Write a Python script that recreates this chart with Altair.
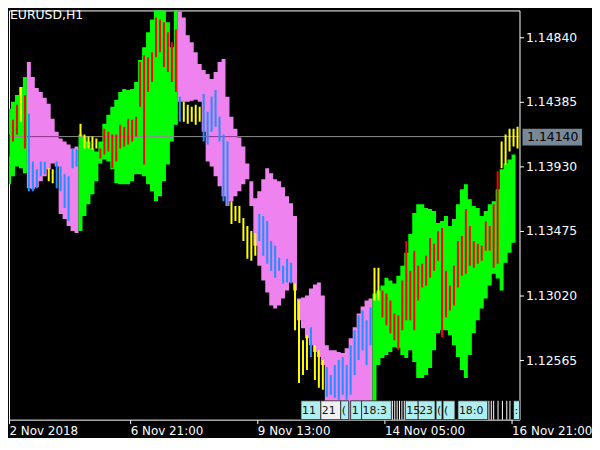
import altair as alt
import pandas as pd

# ---------------- data ----------------
band_top = [
    1.14301, 1.14336, 1.14385, 1.14434, 1.14490, 1.14560, 1.14665, 1.14560, 1.14483, 1.14455,
    1.14413, 1.14371, 1.14266, 1.14175, 1.14126, 1.14105, 1.14084, 1.14056, 1.14070, 1.14154,
    1.14140, 1.14105, 1.14056, 1.14035, 1.14105, 1.14231, 1.14294, 1.14350, 1.14399, 1.14455,
    1.14476, 1.14469, 1.14476, 1.14525, 1.14679, 1.14770, 1.14875, 1.14966, 1.15036, 1.15057,
    1.15050, 1.14945, 1.14770, 1.15071, 1.15022, 1.14980, 1.14854, 1.14805, 1.14735, 1.14651,
    1.14609, 1.14581, 1.14546, 1.14595, 1.14665, 1.14686, 1.14420, 1.14280, 1.14196, 1.14133,
    1.14070, 1.13951, 1.13825, 1.13706, 1.13755, 1.13839, 1.13916, 1.13881, 1.13839, 1.13825,
    1.13783, 1.13720, 1.13671, 1.13580, 1.12999, 1.13006, 1.13020, 1.13069, 1.13097, 1.13111,
    1.13020, 1.12670, 1.12635, 1.12635, 1.12621, 1.12614, 1.12649, 1.12719, 1.12796, 1.12894,
    1.12943, 1.12985, 1.12999, 1.13034, 1.13055, 1.13090, 1.13146, 1.13125, 1.13104, 1.13160,
    1.13230, 1.13321, 1.13454, 1.13601, 1.13664, 1.13664, 1.13636, 1.13629, 1.13615, 1.13531,
    1.13545, 1.13580, 1.13510, 1.13559, 1.13664, 1.13769, 1.13804, 1.13699, 1.13650, 1.13636,
    1.13580, 1.13615, 1.13664, 1.13685, 1.13769, 1.13909, 1.13951, 1.13979, 1.14014,
]
band_bot = [
    1.13804, 1.13804, 1.13860, 1.13930, 1.13916, 1.13881, 1.13776, 1.13769, 1.13783, 1.13825,
    1.13860, 1.13909, 1.13951, 1.13930, 1.13594, 1.13559, 1.13510, 1.13475, 1.13461, 1.13475,
    1.13580, 1.13664, 1.13734, 1.13825, 1.13951, 1.13979, 1.13965, 1.13909, 1.13811, 1.13804,
    1.13804, 1.13804, 1.13825, 1.13874, 1.13874, 1.13860, 1.13804, 1.13755, 1.13685, 1.13720,
    1.13825, 1.13944, 1.14105, 1.14224, 1.14385, 1.14385, 1.14385, 1.14392, 1.14399, 1.14385,
    1.14175, 1.13965, 1.13930, 1.13860, 1.13790, 1.13720, 1.13650, 1.13685, 1.13720, 1.13755,
    1.13804, 1.13839, 1.13650, 1.13370, 1.13230, 1.13125, 1.13041, 1.12950, 1.12929, 1.12950,
    1.12999, 1.13055, 1.13111, 1.13055, 1.12845, 1.12789, 1.12719, 1.12670, 1.12621, 1.12586,
    1.12530, 1.12145, 1.12145, 1.12145, 1.12145, 1.12145, 1.12145, 1.12145, 1.12145, 1.12145,
    1.12145, 1.12145, 1.12145, 1.12145, 1.12530, 1.12579, 1.12600, 1.12621, 1.12656, 1.12649,
    1.12600, 1.12579, 1.12635, 1.12551, 1.12439, 1.12439, 1.12460, 1.12509, 1.12635, 1.12754,
    1.12775, 1.12775, 1.12740, 1.12670, 1.12586, 1.12495, 1.12439, 1.12600, 1.12754, 1.12845,
    1.12929, 1.12999, 1.13090, 1.13174, 1.13139, 1.13055, 1.13251, 1.13321, 1.13391,
]
band_kind = "G" * 6 + "P" * 13 + "G" * 25 + "P" * 49 + "G" * 36

bar_hi = [
    1.14035, 1.14154, 1.14259, 1.14364, 1.14490, 1.14434, 1.14301, 1.13965, 1.13909, 1.13965,
    1.13965, 1.13916, 1.13909, 1.13965, 1.13930, 1.13874, 1.13860, 1.14056, 1.14049, 1.14231,
    1.14154, 1.14140, 1.14140, 1.14126, 1.14056, 1.14196, 1.14175, 1.14154, 1.14154, 1.14224,
    1.14210, 1.14266, 1.14259, 1.14280, 1.14665, 1.14714, 1.14700, 1.14735, 1.14980, 1.14966,
    1.14945, 1.14875, 1.14805, 1.14896, 1.14420, 1.14385, 1.14364, 1.14350, 1.14364, 1.14350,
    1.14441, 1.14315, 1.14420, 1.14469, 1.14280, 1.14154, 1.14105, 1.13685, 1.13650, 1.13650,
    1.13566, 1.13510, 1.13475, 1.13461, 1.13594, 1.13580, 1.13545, 1.13405, 1.13370, 1.13286,
    1.13230, 1.13279, 1.13251, 1.13104, 1.12985, 1.12705, 1.12740, 1.12796, 1.12670, 1.12635,
    1.12565, 1.12516, 1.12460, 1.12530, 1.12565, 1.12586, 1.12530, 1.12670, 1.12775, 1.12880,
    1.12915, 1.12845, 1.12936, 1.13216, 1.13216, 1.13055, 1.13034, 1.12985, 1.12894, 1.12880,
    1.13125, 1.13405, 1.13195, 1.13335, 1.13230, 1.13244, 1.13300, 1.13426, 1.13384, 1.13475,
    1.13496, 1.13195, 1.13090, 1.13230, 1.13405, 1.13440, 1.13629, 1.13510, 1.13405, 1.13384,
    1.13370, 1.13545, 1.13510, 1.13664, 1.13895, 1.14105, 1.14154, 1.14196, 1.14196, 1.14210,
]
bar_lo = [
    1.13909, 1.14000, 1.14105, 1.14154, 1.14245, 1.14056, 1.13755, 1.13755, 1.13776, 1.13860,
    1.13874, 1.13825, 1.13811, 1.13776, 1.13755, 1.13636, 1.13545, 1.13916, 1.13930, 1.14140,
    1.14056, 1.14056, 1.14049, 1.14056, 1.13986, 1.14014, 1.14035, 1.13916, 1.13965, 1.14056,
    1.14070, 1.14084, 1.14105, 1.14140, 1.14350, 1.13944, 1.14455, 1.14525, 1.14700, 1.14735,
    1.14630, 1.14595, 1.14525, 1.14455, 1.14245, 1.14245, 1.14231, 1.14245, 1.14224, 1.14245,
    1.14105, 1.14084, 1.14175, 1.14210, 1.14105, 1.13685, 1.13650, 1.13524, 1.13545, 1.13531,
    1.13405, 1.13279, 1.13265, 1.13300, 1.13405, 1.13300, 1.13244, 1.13195, 1.13146, 1.13195,
    1.13104, 1.13111, 1.13104, 1.12775, 1.12404, 1.12460, 1.12495, 1.12586, 1.12425, 1.12369,
    1.12355, 1.12306, 1.12320, 1.12299, 1.12285, 1.12320, 1.12285, 1.12320, 1.12460, 1.12565,
    1.12635, 1.12530, 1.12670, 1.12985, 1.12985, 1.12866, 1.12810, 1.12754, 1.12705, 1.12635,
    1.12775, 1.12845, 1.12845, 1.12775, 1.12985, 1.13076, 1.13090, 1.13146, 1.13195, 1.13265,
    1.12726, 1.12866, 1.12915, 1.12950, 1.13076, 1.13160, 1.13174, 1.13230, 1.13216, 1.13244,
    1.13265, 1.13335, 1.13335, 1.13216, 1.13244, 1.13916, 1.13944, 1.14035, 1.14070, 1.14056,
]
bar_kind = ("RRRR" "Y" "R" "BBBBB" "YY" "BBBBBB" "YYYYY" + "R" * 20 + "B" "YYYYY" "BBBBBBB"
            "YYYYYYY" "BBBBBBBBB" "YYYY" "B" "YYY" + "B" * 12 + "YY" + "R" * 30 + "YYYYY")

x_ticks = [1.5, 32, 64, 96, 128]
x_labels = ["2 Nov 2018", "6 Nov 21:00", "9 Nov 13:00", "14 Nov 05:00", "16 Nov 21:00"]
y_ticks = [1.14840, 1.14385, 1.13930, 1.13475, 1.13020, 1.12565]
last_price = 1.14140
symbol = "EURUSD,H1"

# vertical-line label objects along the bottom (text, from-bar, to-bar, fill)
obj_text = ["11", "21", "(", "1", "18:3", "15", "23", "(", "(", "18:0", ":"]
obj_from = [75.0, 80.0, 85.0, 87.5, 90.25, 101.25, 104.5, 109.0, 110.75, 114.5, 128.5]
obj_to = [80.0, 85.0, 87.0, 90.25, 97.75, 104.5, 108.75, 110.5, 113.75, 122.0, 130.0]
obj_fill = ["#AFEEEE", "#F0F0F0", "#AFEEEE", "#AFEEEE", "#AFEEEE", "#AFEEEE", "#AFEEEE",
            "#AFEEEE", "#AFEEEE", "#AFEEEE", "#AFEEEE"]
obj_lines = [98.0, 98.6, 99.2, 99.8, 100.4, 101.0, 122.3, 122.9, 123.5, 124.6, 125.7, 126.8, 127.6]
obj_top, obj_bottom, obj_mid = 1.12278, 1.12145, 1.12208

palette = {"G": "#00FF00", "P": "#EE82EE", "R": "#FF0000", "Y": "#FFFF00", "B": "#1E90FF"}

# ---------------- tables ----------------
band = pd.DataFrame({"i": list(range(len(band_top))), "top": band_top, "bot": band_bot,
                     "kind": list(band_kind)})
band["hex"] = band["kind"].map(palette)
band["seg"] = (band["kind"] != band["kind"].shift()).cumsum()
closing = band.groupby("seg").tail(1).copy()
closing["i"] = closing["i"] + 1
area_df = pd.concat([band, closing]).sort_values(["seg", "i"]).reset_index(drop=True)

# where the last-price line passes through the violet cloud it shows darker
under = band[(band["kind"] == "P") & (band["bot"] <= last_price) & (band["top"] >= last_price)].copy()
under["i2"] = under["i"] + 1
under["p"] = last_price

bars = pd.DataFrame({"i": list(range(len(bar_hi))), "hi": bar_hi, "lo": bar_lo,
                     "hex": [palette[k] for k in bar_kind]})
bars["xa"] = bars["i"] + 0.25
bars["xb"] = bars["i"] + 0.75
objs = pd.DataFrame({"t": obj_text, "x": obj_from, "x2": obj_to, "fill": obj_fill,
                     "y": obj_top, "y2": obj_bottom, "ym": obj_mid})
lines = pd.DataFrame({"x": obj_lines, "y": obj_top, "y2": obj_bottom})

FONT = "DejaVu Sans"
xs = alt.Scale(domain=[1.5, 130], nice=False, zero=False)
ys = alt.Scale(domain=[1.12145, 1.15029], nice=False, zero=False)
expr = " : ".join(f"datum.value == {v} ? '{l}'" for v, l in zip(x_ticks, x_labels)) + " : ''"
xax = alt.Axis(values=x_ticks, labelExpr=expr, title=None, orient="bottom", labelAlign="left",
               labelFlush=False, labelOverlap=False, grid=False, domain=False,
               tickColor="white", tickSize=4, labelColor="white", labelFont=FONT,
               labelFontSize=12, labelPadding=2)
yax = alt.Axis(values=y_ticks, format=".5f", title=None, orient="right", grid=False,
               domain=False, tickColor="white", tickSize=4, labelColor="white",
               labelFont=FONT, labelFontSize=12.5, labelPadding=2, labelFlush=False,
               labelOverlap=False)


def X(f):
    return alt.X(f, type="quantitative", scale=xs, axis=xax)


def Y(f):
    return alt.Y(f, type="quantitative", scale=ys, axis=yax)


band_layer = alt.Chart(area_df).mark_area(interpolate="step-after", clip=True).encode(
    x=X("i"), y=Y("top"), y2="bot",
    color=alt.Color("hex:N", scale=None), detail="seg:N")

price_line = alt.Chart(pd.DataFrame({"p": [last_price]})).mark_rule(
    color="#8C8C8C", strokeWidth=1).encode(y=Y("p"))

price_under = alt.Chart(under).mark_rule(color="#9A2F8F", strokeWidth=1, clip=True).encode(
    x=X("i"), x2="i2", y=Y("p"))

bar_layer = alt.Chart(bars).mark_rect(clip=True).encode(
    x=X("xa"), x2="xb", y=Y("hi"), y2="lo", color=alt.Color("hex:N", scale=None))

obj_rects = alt.Chart(objs).mark_rect(stroke="#202020", strokeWidth=0.8).encode(
    x=X("x"), x2="x2", y=Y("y"), y2="y2", color=alt.Color("fill:N", scale=None))
obj_rules = alt.Chart(lines).mark_rule(color="white", strokeWidth=1).encode(
    x=X("x"), y=Y("y"), y2="y2")
obj_texts = alt.Chart(objs).mark_text(align="left", baseline="middle", dx=1, color="#101010",
                                      font=FONT, fontSize=11).encode(
    x=X("x"), y=Y("ym"), text="t:N")

title = alt.Chart(pd.DataFrame({"x": [1.75], "y": [1.14994], "t": [symbol]})).mark_text(
    align="left", baseline="middle", color="white", font=FONT, fontSize=12.5).encode(
    x=X("x"), y=Y("y"), text="t:N")

tag = pd.DataFrame({"x": [130.75], "x2": [145.75], "y": [1.14196], "y2": [1.14077],
                    "tx": [131.9], "p": [last_price], "t": [f"{last_price:.5f}"]})
tag_rect = alt.Chart(tag).mark_rect(color="#778899").encode(
    x=X("x"), x2="x2", y=Y("y"), y2="y2")
tag_text = alt.Chart(tag).mark_text(align="left", baseline="middle", color="black",
                                    font=FONT, fontSize=12.5).encode(
    x=X("tx"), y=Y("p"), text="t:N")

chart = alt.layer(band_layer, price_line, price_under, bar_layer, obj_rects, obj_rules,
                  obj_texts, title, tag_rect, tag_text).properties(
    width=514, height=412, padding=0, background="black"
).configure_view(stroke="white", strokeWidth=1)

chart.save("out.html", embed_options={"renderer": "svg", "actions": False})
